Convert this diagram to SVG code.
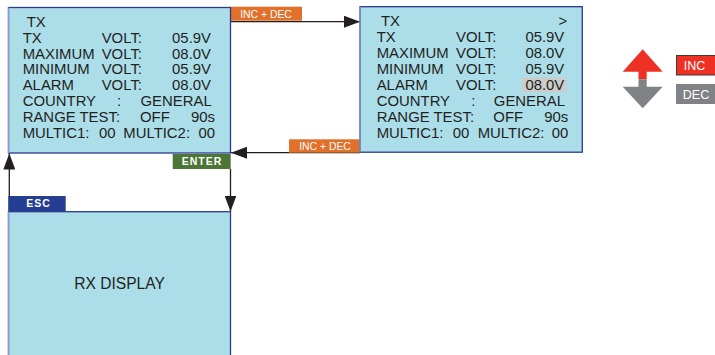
<svg xmlns="http://www.w3.org/2000/svg" width="715" height="355" viewBox="0 0 715 355">
<defs>
<style>
.box{fill:#acdeea;stroke:#2b3a8c;stroke-width:1.3}
.lb{stroke:#8b9cc9;stroke-width:1.3}
.t{font-family:"Liberation Sans",Arial,sans-serif;font-size:14.9px;fill:#231f20}
.r{text-anchor:end}
.lbl{font-family:"Liberation Sans",Arial,sans-serif;font-size:10.4px;fill:#ffffff;text-anchor:middle}
.key{font-family:"Liberation Sans",Arial,sans-serif;font-size:10.5px;font-weight:bold;fill:#ffffff;text-anchor:middle;letter-spacing:1px}
.conn{stroke:#231f20;stroke-width:1.3;fill:none;marker-end:url(#ah)}
</style>
<marker id="ah" viewBox="0 0 16 12" refX="16" refY="6" markerWidth="16" markerHeight="12" markerUnits="userSpaceOnUse" orient="auto">
<path d="M0,0 L16,6 L0,12 Z" fill="#231f20"/>
</marker>
</defs>
<rect width="715" height="355" fill="#ffffff"/>

<g id="connectors">
<line class="conn" x1="231" y1="21.7" x2="360" y2="21.7"/>
<line class="conn" x1="360" y1="152.7" x2="231" y2="152.7"/>
<line class="conn" x1="230.5" y1="169" x2="230.5" y2="211.5"/>
<line class="conn" x1="9.3" y1="211.5" x2="9.3" y2="153.5"/>
<rect x="230" y="6.7" width="72" height="14" fill="#e0702a"/>
<text class="lbl" x="266" y="17.5">INC + DEC</text>
<rect x="289" y="139.3" width="72" height="13.4" fill="#e0702a"/>
<text class="lbl" x="325" y="150">INC + DEC</text>
<rect x="172.7" y="154" width="58" height="15" fill="#4b7636"/>
<text class="key" x="202" y="165.3">ENTER</text>
<rect x="8.3" y="196" width="57.4" height="15" fill="#243e92"/>
<text class="key" x="38.5" y="207.3">ESC</text>
</g>

<g id="tx-screen">
<rect class="box" x="8.5" y="7.5" width="222" height="145.5"/>
<line class="lb" x1="8.5" y1="7.5" x2="8.5" y2="153"/>
<text class="t" x="26.7" y="26.7">TX</text>
<text class="t" x="22.7" y="42.7">TX</text><text class="t" x="101.7" y="42.7">VOLT:</text><text class="t r" x="211" y="42.7">05.9V</text>
<text class="t" x="22.7" y="58.7">MAXIMUM</text><text class="t" x="101.7" y="58.7">VOLT:</text><text class="t r" x="211" y="58.7">08.0V</text>
<text class="t" x="22.7" y="74.3">MINIMUM</text><text class="t" x="101.7" y="74.3">VOLT:</text><text class="t r" x="211" y="74.3">05.9V</text>
<text class="t" x="22.7" y="90">ALARM</text><text class="t" x="101.7" y="90">VOLT:</text><text class="t r" x="211" y="90">08.0V</text>
<text class="t" x="22.7" y="106">COUNTRY</text><text class="t" x="117" y="106">:</text><text class="t r" x="211.7" y="106">GENERAL</text>
<text class="t" x="22.7" y="122">RANGE TEST:</text><text class="t" x="140" y="122">OFF</text><text class="t r" x="215" y="122">90s</text>
<text class="t" x="22.7" y="138">MULTIC1:</text><text class="t" x="99" y="138">00</text><text class="t" x="123.3" y="138">MULTIC2:</text><text class="t r" x="215" y="138">00</text>
</g>

<g id="tx-edit-screen">
<rect class="box" x="360" y="6.7" width="222.3" height="145.5"/>
<line class="lb" x1="360" y1="6.7" x2="360" y2="152.2"/>
<rect x="521.7" y="77.3" width="45" height="15" fill="#cccccc"/>
<text class="t" x="381" y="25.7">TX</text><text class="t r" x="567.3" y="25.7">&gt;</text>
<text class="t" x="376.7" y="41.7">TX</text><text class="t" x="456" y="41.7">VOLT:</text><text class="t r" x="564.3" y="41.7">05.9V</text>
<text class="t" x="376.7" y="57.7">MAXIMUM</text><text class="t" x="456" y="57.7">VOLT:</text><text class="t r" x="564.3" y="57.7">08.0V</text>
<text class="t" x="376.7" y="73.5">MINIMUM</text><text class="t" x="456" y="73.5">VOLT:</text><text class="t r" x="564.3" y="73.5">05.9V</text>
<text class="t" x="376.7" y="90">ALARM</text><text class="t" x="456" y="90">VOLT:</text><text class="t r" x="564.3" y="90">08.0V</text>
<text class="t" x="376.7" y="106">COUNTRY</text><text class="t" x="471.3" y="106">:</text><text class="t r" x="565" y="106">GENERAL</text>
<text class="t" x="376.7" y="121.7">RANGE TEST:</text><text class="t" x="493.3" y="121.7">OFF</text><text class="t r" x="568.3" y="121.7">90s</text>
<text class="t" x="376.7" y="137.5">MULTIC1:</text><text class="t" x="452.7" y="137.5">00</text><text class="t" x="477.7" y="137.5">MULTIC2:</text><text class="t r" x="568.3" y="137.5">00</text>
</g>

<g id="rx-display">
<rect class="box" x="8.5" y="211.7" width="222" height="150"/>
<line class="lb" x1="8.5" y1="211.7" x2="8.5" y2="355"/>
<text class="t" x="119.5" y="289.3" style="font-size:15.6px;text-anchor:middle">RX DISPLAY</text>
</g>

<g id="legend">
<polygon points="642.7,49.3 662.7,71.7 646.7,71.7 646.7,79.3 638.5,79.3 638.5,71.7 622.7,71.7" fill="#ee3124"/>
<polygon points="638.5,79.3 646.7,79.3 646.7,86.7 662.7,86.7 642.7,108.3 622.7,86.7 638.5,86.7" fill="#808285"/>
<rect x="676.5" y="55.5" width="40" height="19.5" fill="#ee3124" stroke="#3a3a3a" stroke-width="1"/>
<text x="694.5" y="70" style="font-family:'Liberation Sans',Arial,sans-serif;font-size:12.5px;fill:#ffffff;text-anchor:middle">INC</text>
<rect x="676" y="84" width="40" height="20" fill="#808285"/>
<text x="696" y="98.8" style="font-family:'Liberation Sans',Arial,sans-serif;font-size:12.5px;fill:#ffffff;text-anchor:middle">DEC</text>
</g>
</svg>
